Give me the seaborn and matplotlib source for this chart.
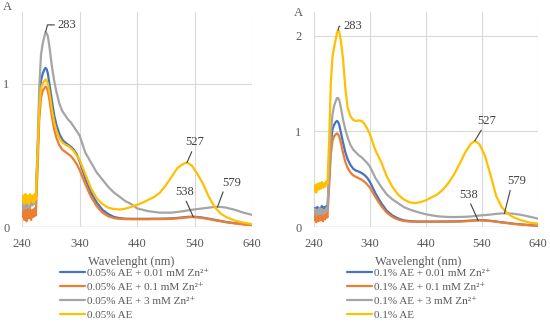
import matplotlib
matplotlib.use("Agg")
import matplotlib.pyplot as plt
import seaborn as sns

# wavelength grid (nm)
wl = [240, 242, 244, 246, 248, 250, 252, 254, 256, 258, 260, 262, 264,
      267, 270, 273, 276, 279, 281, 283, 285, 288, 292, 296, 300,
      305, 310, 315, 320, 325, 330, 335, 340, 345, 350,
      360, 370, 380, 390, 400, 410, 420, 430, 440, 450, 460, 470, 480, 490, 500, 510, 520,
      527, 535, 545, 555, 565, 575, 585, 595, 610, 625, 640]

# 0.05 % AE panel
l_blue = [0.19, 0.15, 0.21, 0.16, 0.20, 0.15, 0.21, 0.16, 0.20, 0.17, 0.21, 0.17, 0.20,
          0.50, 0.85, 1.02, 1.07, 1.10, 1.11, 1.10, 1.07, 0.99, 0.88, 0.78, 0.71,
          0.65, 0.61, 0.59, 0.575, 0.56, 0.54, 0.51, 0.46, 0.40, 0.34,
          0.24, 0.17, 0.12, 0.09, 0.07, 0.062, 0.058, 0.057, 0.057, 0.057, 0.057, 0.058, 0.058, 0.059, 0.06, 0.063, 0.067,
          0.07, 0.072, 0.07, 0.065, 0.058, 0.05, 0.043, 0.035, 0.027, 0.02, 0.015]
l_orange = [0.07, 0.13, 0.05, 0.12, 0.04, 0.13, 0.06, 0.12, 0.05, 0.12, 0.07, 0.13, 0.08,
            0.40, 0.75, 0.90, 0.95, 0.97, 0.98, 0.97, 0.95, 0.88, 0.77, 0.68, 0.62,
            0.57, 0.54, 0.525, 0.51, 0.495, 0.47, 0.44, 0.40, 0.35, 0.30,
            0.21, 0.145, 0.10, 0.075, 0.062, 0.057, 0.055, 0.054, 0.054, 0.054, 0.054, 0.055, 0.055, 0.056, 0.057, 0.06, 0.064,
            0.067, 0.069, 0.067, 0.062, 0.055, 0.047, 0.04, 0.033, 0.025, 0.018, 0.013]
l_gray = [0.17, 0.12, 0.19, 0.13, 0.20, 0.14, 0.19, 0.13, 0.20, 0.15, 0.21, 0.16, 0.20,
          0.55, 0.97, 1.20, 1.28, 1.33, 1.36, 1.35, 1.33, 1.25, 1.12, 1.02, 0.94,
          0.86, 0.81, 0.78, 0.75, 0.73, 0.70, 0.67, 0.64, 0.58, 0.52,
          0.45, 0.38, 0.33, 0.28, 0.24, 0.21, 0.18, 0.16, 0.13, 0.12, 0.11, 0.105, 0.10, 0.10, 0.10, 0.105, 0.11,
          0.115, 0.12, 0.125, 0.13, 0.135, 0.14, 0.14, 0.135, 0.12, 0.10, 0.085]
l_yellow = [0.18, 0.22, 0.16, 0.23, 0.17, 0.22, 0.16, 0.23, 0.18, 0.22, 0.17, 0.23, 0.19,
            0.50, 0.82, 0.97, 1.00, 1.02, 1.03, 1.02, 1.00, 0.93, 0.82, 0.73, 0.67,
            0.62, 0.59, 0.575, 0.565, 0.55, 0.53, 0.50, 0.47, 0.42, 0.37,
            0.27, 0.20, 0.16, 0.135, 0.125, 0.122, 0.128, 0.14, 0.155, 0.17, 0.19, 0.21, 0.24, 0.29, 0.35, 0.41, 0.44,
            0.45, 0.43, 0.37, 0.30, 0.21, 0.14, 0.095, 0.07, 0.045, 0.03, 0.02]

# 0.1 % AE panel
r_blue = [0.16, 0.20, 0.14, 0.21, 0.15, 0.20, 0.16, 0.22, 0.15, 0.21, 0.17, 0.22, 0.19,
          0.52, 0.86, 1.02, 1.07, 1.10, 1.11, 1.10, 1.07, 0.99, 0.88, 0.78, 0.71,
          0.65, 0.61, 0.59, 0.58, 0.565, 0.545, 0.515, 0.47, 0.41, 0.35,
          0.25, 0.17, 0.12, 0.09, 0.07, 0.062, 0.058, 0.057, 0.057, 0.057, 0.057, 0.058, 0.058, 0.059, 0.06, 0.063, 0.067,
          0.07, 0.072, 0.07, 0.065, 0.058, 0.05, 0.043, 0.035, 0.027, 0.02, 0.015]
r_orange = [0.07, 0.13, 0.05, 0.14, 0.06, 0.12, 0.07, 0.14, 0.06, 0.13, 0.08, 0.14, 0.10,
            0.42, 0.76, 0.90, 0.95, 0.97, 0.98, 0.97, 0.95, 0.88, 0.77, 0.68, 0.62,
            0.57, 0.54, 0.525, 0.51, 0.495, 0.475, 0.445, 0.41, 0.36, 0.31,
            0.22, 0.15, 0.105, 0.078, 0.063, 0.057, 0.055, 0.054, 0.054, 0.054, 0.054, 0.055, 0.055, 0.056, 0.057, 0.06, 0.064,
            0.067, 0.069, 0.067, 0.062, 0.055, 0.047, 0.04, 0.033, 0.025, 0.018, 0.013]
r_gray = [0.14, 0.19, 0.12, 0.18, 0.13, 0.20, 0.14, 0.19, 0.13, 0.18, 0.15, 0.20, 0.17,
          0.60, 0.97, 1.18, 1.27, 1.32, 1.35, 1.35, 1.33, 1.25, 1.12, 1.02, 0.94,
          0.86, 0.81, 0.78, 0.75, 0.73, 0.70, 0.67, 0.63, 0.57, 0.51,
          0.42, 0.34, 0.29, 0.25, 0.21, 0.185, 0.165, 0.148, 0.133, 0.122, 0.113, 0.108, 0.105, 0.104, 0.105, 0.107, 0.11,
          0.115, 0.12, 0.125, 0.13, 0.137, 0.142, 0.143, 0.14, 0.127, 0.108, 0.088]
r_yellow = [0.38, 0.44, 0.36, 0.45, 0.39, 0.46, 0.40, 0.47, 0.41, 0.46, 0.42, 0.48, 0.45,
            0.90, 1.50, 1.78, 1.88, 1.97, 2.03, 2.06, 2.04, 1.95, 1.75, 1.45, 1.25,
            1.16, 1.12, 1.11, 1.115, 1.11, 1.08, 1.03, 0.97, 0.88, 0.80,
            0.68, 0.53, 0.42, 0.34, 0.29, 0.26, 0.25, 0.26, 0.28, 0.31, 0.34, 0.39, 0.46, 0.55, 0.66, 0.78, 0.87,
            0.90, 0.87, 0.75, 0.55, 0.33, 0.21, 0.145, 0.105, 0.07, 0.045, 0.035]

colors = ["#4472C4", "#ED7D31", "#A5A5A5", "#FFC000"]
l_labels = ["0.05% AE + 0.01 mM Zn²⁺", "0.05% AE + 0.1 mM Zn²⁺", "0.05% AE + 3 mM Zn²⁺", "0.05% AE"]
r_labels = ["0.1% AE + 0.01 mM Zn²⁺", "0.1% AE + 0.1 mM Zn²⁺", "0.1% AE + 3 mM Zn²⁺", "0.1% AE"]

sns.set_style("white")
plt.rcParams["font.family"] = ["Liberation Serif", "DejaVu Serif"]
txt = "#595959"

fig = plt.figure(figsize=(5.5, 3.36), dpi=100)
axL = fig.add_axes([22 / 550, 1 - 227 / 336, 230 / 550, 215 / 336])
axR = fig.add_axes([314 / 550, 1 - 227 / 336, 224 / 550, 215 / 336])

panels = [
    (axL, [l_blue, l_orange, l_gray, l_yellow], l_labels, 1.5, [0, 1], 60, 0.474),
    (axR, [r_blue, r_orange, r_gray, r_yellow], r_labels, 2.25, [0, 1, 2], 347, 0.464),
]

for ax, series, labels, ytop, yt, legx, labx in panels:
    for vals, c, lab in zip(series, colors, labels):
        sns.lineplot(x=wl, y=vals, ax=ax, color=c, label=lab, lw=1.6)
    ax.set_xlim(240, 640)
    ax.set_ylim(0, ytop)
    ax.set_xticks([240, 340, 440, 540, 640])
    ax.set_yticks(yt)
    ax.grid(True, color="#d9d9d9", lw=0.8)
    ax.set_axisbelow(True)
    for s in ax.spines.values():
        s.set_visible(False)
    ax.axhline(0, color="#d0d0d0", lw=1, zorder=0)
    ax.tick_params(length=0, labelsize=9, labelcolor=txt)
    ax.tick_params(axis="x", pad=8)
    ax.tick_params(axis="y", pad=9)
    ax.set_ylabel("")
    ax.set_xlabel("Wavelenght (nm)", fontsize=9, color=txt, va="center")
    ax.xaxis.set_label_coords(labx, -(262 - 227) / 215)
    ax.legend(loc="upper left", bbox_to_anchor=(legx / 550, 1 - 268.5 / 336),
              bbox_transform=fig.transFigure, frameon=False, fontsize=8,
              handlelength=2.25, handletextpad=0.2, borderpad=0, borderaxespad=0,
              labelspacing=0.36, labelcolor=txt)

fig.text(7 / 550, 1 - 7 / 336, "A", fontsize=9, color=txt, ha="center", va="center")
fig.text(298 / 550, 1 - 13 / 336, "A", fontsize=9, color=txt, ha="center", va="center")

lead = dict(arrowstyle="-", color="#404040", lw=0.8, shrinkA=0, shrinkB=0)
ann = dict(fontsize=9, color="#404040")

# left panel peak labels
axL.annotate("283", xy=(281, 1.36), xytext=(302, 1.41), ha="left", va="center",
             arrowprops=dict(lead, relpos=(0, 0.5), connectionstyle="angle,angleA=0,angleB=75,rad=0"), **ann)
axL.annotate("527", xy=(527, 0.45), xytext=(541, 0.59), ha="center", va="center",
             arrowprops=dict(lead, relpos=(0.4, 0)), **ann)
axL.annotate("579", xy=(580, 0.14), xytext=(605, 0.31), ha="center", va="center",
             arrowprops=dict(lead, relpos=(0.1, 0)), **ann)
axL.annotate("538", xy=(538, 0.07), xytext=(523, 0.245), ha="center", va="center",
             arrowprops=dict(lead, relpos=(0.5, 0)), **ann)

# right panel peak labels
axR.annotate("283", xy=(283, 2.06), xytext=(292, 2.10), ha="left", va="center",
             arrowprops=dict(lead, relpos=(0, 0.5), connectionstyle="angle,angleA=0,angleB=75,rad=0"), **ann)
axR.annotate("527", xy=(527, 0.90), xytext=(549, 1.11), ha="center", va="center",
             arrowprops=dict(lead, relpos=(0.3, 0)), **ann)
axR.annotate("579", xy=(580, 0.143), xytext=(602, 0.48), ha="center", va="center",
             arrowprops=dict(lead, relpos=(0.2, 0)), **ann)
axR.annotate("538", xy=(533, 0.07), xytext=(517, 0.34), ha="center", va="center",
             arrowprops=dict(lead, relpos=(0.5, 0)), **ann)

fig.savefig("out.png", dpi=100)
